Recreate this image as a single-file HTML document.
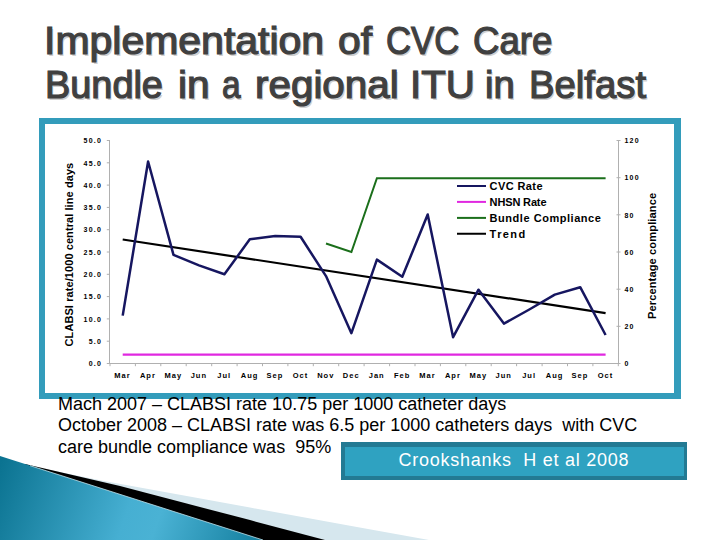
<!DOCTYPE html>
<html><head><meta charset="utf-8">
<style>
html,body{margin:0;padding:0;width:720px;height:540px;overflow:hidden;background:#fff;}
body{position:relative;font-family:"Liberation Sans",sans-serif;}
.title span{position:absolute;font-size:38px;font-weight:normal;-webkit-text-stroke:1.2px #404040;line-height:44px;color:#404040;text-shadow:1.5px 1.5px 0.5px #d0d0d0;white-space:nowrap;transform-origin:0 0;}
.frame{position:absolute;left:39px;top:118px;width:629px;height:269px;border-style:solid;border-color:#339cbb;border-width:6px 7px 6px 6px;background:#fff;}
.body{position:absolute;left:58px;top:393.6px;font-size:18px;line-height:21.6px;color:#000;white-space:nowrap;}
.cite{position:absolute;left:341px;top:442px;width:339px;height:28.5px;border-style:solid;border-color:#237a93;border-width:5px 3.5px 4.5px 4.5px;background:#2fa2c1;color:#fff;font-size:18px;line-height:30px;box-sizing:content-box;letter-spacing:0.75px;}
.cite span{position:absolute;left:53.5px;top:-1.8px;}
svg{position:absolute;left:0;top:0;}
</style></head><body>
<svg width="720" height="540" viewBox="0 0 720 540" style="z-index:0">
<defs>
<linearGradient id="tg" gradientUnits="userSpaceOnUse" x1="0" y1="465" x2="255" y2="555">
<stop offset="0" stop-color="#0b7391"/>
<stop offset="0.5" stop-color="#46afd2"/>
<stop offset="0.62" stop-color="#4ab2d4"/>
<stop offset="1" stop-color="#147f9f"/>
</linearGradient>
</defs>
<polygon points="40,468 100,480.3 250,507.6 350,525.7 429,540 0,540" fill="#d6e7ee"/>
<polygon points="25,464 120,486.1 250,520.1 325,540 0,540" fill="#000"/>
<polygon points="0,456 263,540 0,540" fill="url(#tg)"/>
<line x1="30" y1="465.6" x2="263" y2="540" stroke="#bfe3ee" stroke-width="0.8"/>
</svg>
<div class="title">
<span style="left:43.71px;top:18.7px;transform:scaleX(1.0783)">Implementation</span>
<span style="left:337.77px;top:18.7px;transform:scaleX(1.0732)">of</span>
<span style="left:385.73px;top:18.7px;transform:scaleX(0.9141)">CVC</span>
<span style="left:472.91px;top:18.7px;transform:scaleX(0.9640)">Care</span>
<span style="left:44.61px;top:62.7px;transform:scaleX(0.9966)">Bundle</span>
<span style="left:177.50px;top:62.7px;transform:scaleX(1.0697)">in</span>
<span style="left:221.65px;top:62.7px;transform:scaleX(0.8784)">a</span>
<span style="left:254.91px;top:62.7px;transform:scaleX(1.0632)">regional</span>
<span style="left:410.46px;top:62.7px;transform:scaleX(1.0585)">ITU</span>
<span style="left:484.59px;top:62.7px;transform:scaleX(1.0059)">in</span>
<span style="left:528.58px;top:62.7px;transform:scaleX(1.0077)">Belfast</span>
</div>
<div class="frame"></div>
<svg width="720" height="540" viewBox="0 0 720 540">
<g stroke="#b0b0b0" stroke-width="1" fill="none">
<line x1="109.5" y1="140" x2="109.5" y2="364"/>
<line x1="109" y1="363.5" x2="618.5" y2="363.5"/>
<line x1="618.5" y1="140" x2="618.5" y2="364"/>
<line x1="106.8" y1="363.5" x2="110" y2="363.5"/>
<line x1="106.8" y1="341.2" x2="110" y2="341.2"/>
<line x1="106.8" y1="318.9" x2="110" y2="318.9"/>
<line x1="106.8" y1="296.6" x2="110" y2="296.6"/>
<line x1="106.8" y1="274.3" x2="110" y2="274.3"/>
<line x1="106.8" y1="252.0" x2="110" y2="252.0"/>
<line x1="106.8" y1="229.7" x2="110" y2="229.7"/>
<line x1="106.8" y1="207.4" x2="110" y2="207.4"/>
<line x1="106.8" y1="185.1" x2="110" y2="185.1"/>
<line x1="106.8" y1="162.8" x2="110" y2="162.8"/>
<line x1="106.8" y1="140.5" x2="110" y2="140.5"/>
<line x1="616.5" y1="363.5" x2="620.5" y2="363.5"/>
<line x1="616.5" y1="326.3" x2="620.5" y2="326.3"/>
<line x1="616.5" y1="289.2" x2="620.5" y2="289.2"/>
<line x1="616.5" y1="252.0" x2="620.5" y2="252.0"/>
<line x1="616.5" y1="214.8" x2="620.5" y2="214.8"/>
<line x1="616.5" y1="177.7" x2="620.5" y2="177.7"/>
<line x1="616.5" y1="140.5" x2="620.5" y2="140.5"/>
<line x1="110.0" y1="363" x2="110.0" y2="366.2"/>
<line x1="135.4" y1="363" x2="135.4" y2="366.2"/>
<line x1="160.8" y1="363" x2="160.8" y2="366.2"/>
<line x1="186.2" y1="363" x2="186.2" y2="366.2"/>
<line x1="211.7" y1="363" x2="211.7" y2="366.2"/>
<line x1="237.1" y1="363" x2="237.1" y2="366.2"/>
<line x1="262.5" y1="363" x2="262.5" y2="366.2"/>
<line x1="287.9" y1="363" x2="287.9" y2="366.2"/>
<line x1="313.3" y1="363" x2="313.3" y2="366.2"/>
<line x1="338.7" y1="363" x2="338.7" y2="366.2"/>
<line x1="364.1" y1="363" x2="364.1" y2="366.2"/>
<line x1="389.6" y1="363" x2="389.6" y2="366.2"/>
<line x1="415.0" y1="363" x2="415.0" y2="366.2"/>
<line x1="440.4" y1="363" x2="440.4" y2="366.2"/>
<line x1="465.8" y1="363" x2="465.8" y2="366.2"/>
<line x1="491.2" y1="363" x2="491.2" y2="366.2"/>
<line x1="516.6" y1="363" x2="516.6" y2="366.2"/>
<line x1="542.1" y1="363" x2="542.1" y2="366.2"/>
<line x1="567.5" y1="363" x2="567.5" y2="366.2"/>
<line x1="592.9" y1="363" x2="592.9" y2="366.2"/>
<line x1="618.3" y1="363" x2="618.3" y2="366.2"/>
</g>
<g font-family="Liberation Sans" font-weight="bold" font-size="7" fill="#000" text-anchor="end" letter-spacing="1.2">
<text x="102" y="366.2">0.0</text>
<text x="102" y="343.9">5.0</text>
<text x="102" y="321.6">10.0</text>
<text x="102" y="299.3">15.0</text>
<text x="102" y="277.0">20.0</text>
<text x="102" y="254.7">25.0</text>
<text x="102" y="232.4">30.0</text>
<text x="102" y="210.1">35.0</text>
<text x="102" y="187.8">40.0</text>
<text x="102" y="165.5">45.0</text>
<text x="102" y="143.2">50.0</text>
</g>
<g font-family="Liberation Sans" font-weight="bold" font-size="7" fill="#000" letter-spacing="1.2">
<text x="624.5" y="366.2">0</text>
<text x="624.5" y="329.0">20</text>
<text x="624.5" y="291.9">40</text>
<text x="624.5" y="254.7">60</text>
<text x="624.5" y="217.5">80</text>
<text x="624.5" y="180.4">100</text>
<text x="624.5" y="143.2">120</text>
</g>
<g font-family="Liberation Sans" font-weight="bold" font-size="7.5" fill="#000" text-anchor="middle" letter-spacing="1.0">
<text x="122.5" y="377.7">Mar</text>
<text x="147.9" y="377.7">Apr</text>
<text x="173.3" y="377.7">May</text>
<text x="198.8" y="377.7">Jun</text>
<text x="224.2" y="377.7">Jul</text>
<text x="249.6" y="377.7">Aug</text>
<text x="275.0" y="377.7">Sep</text>
<text x="300.4" y="377.7">Oct</text>
<text x="325.8" y="377.7">Nov</text>
<text x="351.2" y="377.7">Dec</text>
<text x="376.7" y="377.7">Jan</text>
<text x="402.1" y="377.7">Feb</text>
<text x="427.5" y="377.7">Mar</text>
<text x="452.9" y="377.7">Apr</text>
<text x="478.3" y="377.7">May</text>
<text x="503.7" y="377.7">Jun</text>
<text x="529.1" y="377.7">Jul</text>
<text x="554.6" y="377.7">Aug</text>
<text x="580.0" y="377.7">Sep</text>
<text x="605.4" y="377.7">Oct</text>
</g>
<polyline points="122.7,354.6 605.6,354.6" stroke="#e028e0" stroke-width="2.2" fill="none"/>
<polyline points="326.0,243.5 351.4,252.0 376.9,178.2 402.3,178.2 427.7,178.2 453.1,178.2 478.5,178.2 503.9,178.2 529.3,178.2 554.8,178.2 580.2,178.2 605.6,178.2" stroke="#1b6f1b" stroke-width="2" fill="none"/>
<polyline points="122.7,239.5 605.6,313.1" stroke="#000" stroke-width="2.2" fill="none"/>
<polyline points="122.7,315.6 148.1,161.5 173.5,254.9 199.0,265.4 224.4,274.3 249.8,239.3 275.2,235.9 300.6,236.8 326.0,276.1 351.4,333.2 376.9,259.6 402.3,276.8 427.7,214.5 453.1,337.2 478.5,289.7 503.9,323.6 529.3,309.5 554.8,294.6 580.2,287.2 605.6,335.0" stroke="#161660" stroke-width="2.5" fill="none" stroke-linejoin="round"/>
<line x1="457" y1="186" x2="486" y2="186" stroke="#161660" stroke-width="2"/>
<text x="489.6" y="189.8" textLength="52.9" lengthAdjust="spacing" font-family="Liberation Sans" font-weight="bold" font-size="11" fill="#000">CVC Rate</text>
<line x1="457" y1="201.9" x2="486" y2="201.9" stroke="#e028e0" stroke-width="2"/>
<text x="489.6" y="205.7" textLength="56.9" lengthAdjust="spacing" font-family="Liberation Sans" font-weight="bold" font-size="11" fill="#000">NHSN Rate</text>
<line x1="457" y1="217.9" x2="486" y2="217.9" stroke="#1b6f1b" stroke-width="2"/>
<text x="489.6" y="221.7" textLength="111.3" lengthAdjust="spacing" font-family="Liberation Sans" font-weight="bold" font-size="11" fill="#000">Bundle Compliance</text>
<line x1="457" y1="233.75" x2="486" y2="233.75" stroke="#000" stroke-width="2"/>
<text x="489.6" y="237.6" textLength="35.6" lengthAdjust="spacing" font-family="Liberation Sans" font-weight="bold" font-size="11" fill="#000">Trend</text>
<text transform="translate(73.2,254.6) rotate(-90)" textLength="183.7" lengthAdjust="spacing" text-anchor="middle" font-family="Liberation Sans" font-weight="bold" font-size="11" fill="#000">CLABSI rate/1000 central line days</text>
<text transform="translate(656,255.95) rotate(-90)" textLength="126.3" lengthAdjust="spacing" text-anchor="middle" font-family="Liberation Sans" font-weight="bold" font-size="11.1" fill="#000">Percentage compliance</text>
</svg>
<div class="body">Mach 2007 – CLABSI rate 10.75 per 1000 catheter days<br>October 2008 – CLABSI rate was 6.5 per 1000 catheters days&nbsp; with CVC<br>care bundle compliance was&nbsp; 95%</div>
<div class="cite"><span>Crookshanks&nbsp; H et al 2008</span></div>
</body></html>
